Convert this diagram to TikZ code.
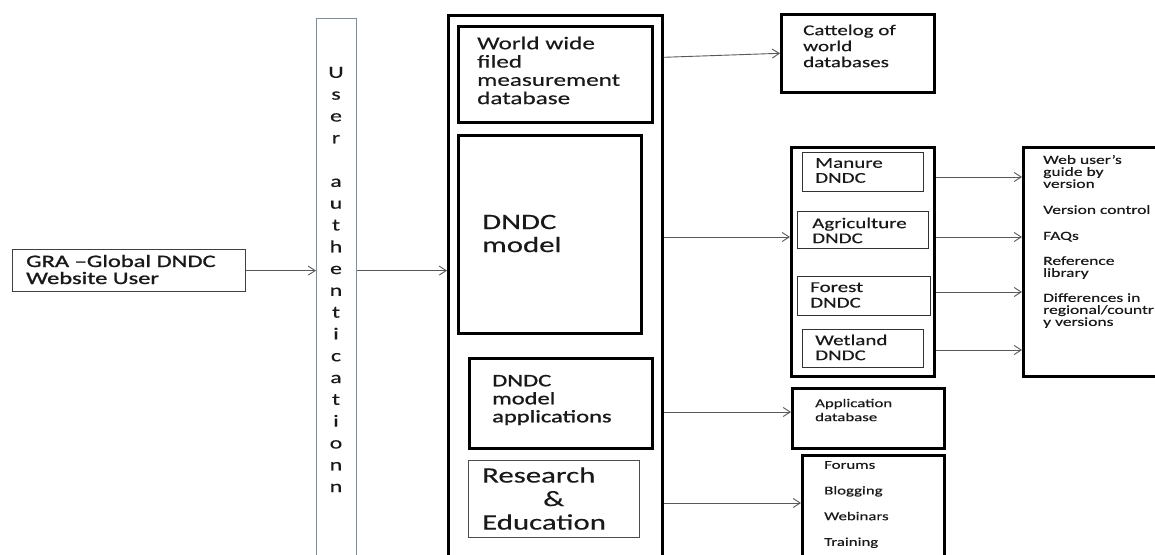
\documentclass[tikz,border=0pt]{standalone}
\usepackage{fontspec}
\setmainfont{Carlito}
\newfontfamily\cf[FakeStretch=1.4,FakeBold=0.3]{Carlito}
\newfontfamily\cfm[FakeStretch=1.4,FakeBold=1.2]{Carlito}
\newcommand{\myfs}[2]{\cf\fontsize{#1pt}{#2pt}\selectfont}
\newcommand{\myfsm}[2]{\cfm\fontsize{#1pt}{#2pt}\selectfont}
\usetikzlibrary{arrows.meta}
\definecolor{authc}{RGB}{125,142,162}
\definecolor{txt}{RGB}{25,25,25}
\begin{document}
\begin{tikzpicture}[x=1pt,y=-1pt,
  thickbox/.style={draw=black, line width=2.6pt, rectangle, inner sep=0pt, anchor=north west},
  thinbox/.style={draw=black!80, line width=1.2pt, rectangle, inner sep=0pt, anchor=north west},
  lbl/.style={anchor=west, inner sep=0pt, align=left, text=txt},
  arr/.style={draw=black!65, line width=0.9pt, -{Straight Barb[length=7pt,width=9pt,line width=0.9pt]}},
]
\useasboundingbox (0,0) rectangle (1155,554);
\fill[white] (0,0) rectangle (1155,554);
\clip (0,0) rectangle (1155,554);

% left side
\node[thinbox, draw=black!75, minimum width=233pt, minimum height=42pt] (gra) at (12,249) {};
\node[lbl, font=\myfsm{17.5}{17}] (gratxt) at (26,269.5) {GRA –Global DNDC\\Website User};

\node[thinbox, draw=authc, line width=1.4pt, minimum width=40pt, minimum height=560pt] (auth) at (316,18) {};
\node[inner sep=0pt, align=center, text=txt, font=\myfs{17}{21.8}] (authtxt) at (336,279.5)
  {U\\s\\e\\r\\\mbox{}\\a\\u\\t\\h\\e\\n\\t\\i\\c\\a\\t\\i\\o\\n\\n};

% main column
\node[thickbox, minimum width=214pt, minimum height=570pt] (main) at (447,14) {};
\node[thickbox, minimum width=194pt, minimum height=96pt] (ww) at (457,25) {};
\node[lbl, font=\myfs{18}{18.3}] (wwtxt) at (477,70.5) {World wide\\filed\\measurement\\database};
\node[thickbox, minimum width=183pt, minimum height=198pt] (model) at (457,134) {};
\node[lbl, font=\myfs{22}{23}] (modeltxt) at (482,233.5) {DNDC\\model};
\node[thickbox, minimum width=183pt, minimum height=90pt] (apps) at (468,357) {};
\node[lbl, font=\myfsm{17.5}{18}] (appstxt) at (492,400) {DNDC\\model\\applications};
\node[thinbox, draw=black!70, minimum width=171pt, minimum height=77pt] (res) at (468,460) {};
\node[lbl, font=\myfs{22}{23.5}] (restxt) at (482,498.5) {Research\\\hspace*{61pt}\&\\Education};

% right side
\node[thickbox, minimum width=153pt, minimum height=78pt] (cat) at (780,13) {};
\node[lbl, font=\myfs{15}{16}] (cattxt) at (803,46) {Cattelog of\\world\\databases};

\node[thickbox, minimum width=143pt, minimum height=229pt] (sub) at (790,146) {};
\node[thinbox, minimum width=121pt, minimum height=39pt] (manure) at (802,152) {};
\node[lbl, font=\myfs{15}{15}] at (815,170.5) {Manure\\DNDC};
\node[thinbox, minimum width=131pt, minimum height=37pt] (agri) at (797,211) {};
\node[lbl, font=\myfs{15}{15}] at (812,230.5) {Agriculture\\DNDC};
\node[thinbox, minimum width=133pt, minimum height=39pt] (forest) at (797,276) {};
\node[lbl, font=\myfs{15}{15.5}] at (810,295) {Forest\\DNDC};
\node[thinbox, minimum width=121pt, minimum height=38pt] (wet) at (802,329) {};
\node[lbl, font=\myfs{15}{15}] at (815,347.5) {Wetland\\DNDC};

\node[thickbox, minimum width=150pt, minimum height=229pt] (web) at (1022,146) {};
\node[lbl, font=\myfs{12.5}{12}] (webtxt) at (1043,241.5)
  {Web user’s\\guide by\\version\\[14pt]Version control\\[14pt]FAQs\\[13pt]Reference\\library\\[13pt]Differences in\\regional/countr\\y versions};

\node[thickbox, minimum width=152pt, minimum height=60pt] (appdb) at (791,387) {};
\node[lbl, font=\myfs{12}{14}] at (815,410) {Application\\database};

\node[thickbox, minimum width=142pt, minimum height=130pt] (forums) at (801,454) {};
\node[lbl, font=\myfs{12}{25.7}] (forumstxt) at (824,504.5) {Forums\\Blogging\\Webinars\\Training};

% row helpers
\coordinate (r1) at (0,237);
\coordinate (r2) at (0,412);
\coordinate (r3) at (0,503);
\coordinate (s1) at (0,177);
\coordinate (s2) at (0,237);
\coordinate (s3) at (0,292);
\coordinate (s4) at (0,350);

% connectors
\draw[arr] (gra.east) -- (gra.east -| auth.west);
\draw[arr] (auth.east |- gra.east) -- (main.west |- gra.east);
\draw[arr] ([yshift=-4pt]main.east |- cat.west) -- (cat.west);
\draw[arr] (main.east |- r1) -- (sub.west |- r1);
\draw[arr] (main.east |- r2) -- (appdb.west |- r2);
\draw[arr] (main.east |- r3) -- (forums.west |- r3);
\draw[arr] (sub.east |- s1) -- (web.west |- s1);
\draw[arr] (sub.east |- s2) -- (web.west |- s2);
\draw[arr] (sub.east |- s3) -- (web.west |- s3);
\draw[arr] (sub.east |- s4) -- (web.west |- s4);
\end{tikzpicture}
\end{document}
